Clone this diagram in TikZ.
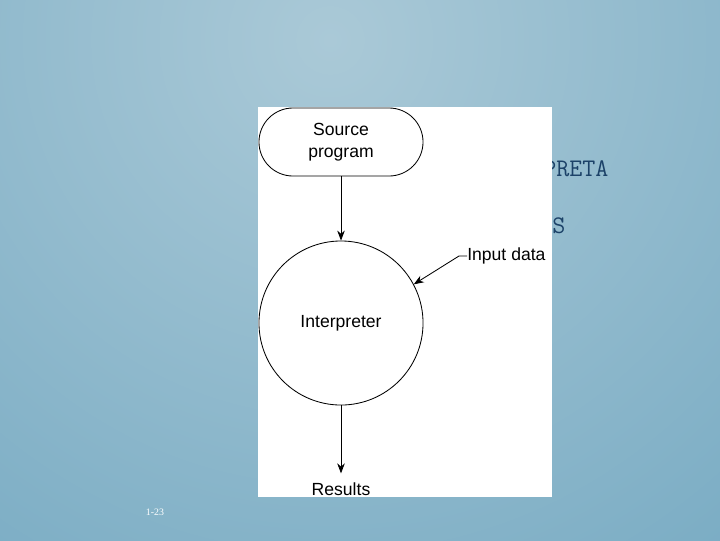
\documentclass[tikz,border=0pt]{standalone}
\usepackage{fontspec}
\usepackage{xcolor}
\usepackage{tikz}
\usetikzlibrary{arrows.meta}
\setmainfont{Liberation Sans}
\newfontfamily\slideserif{Liberation Serif}
\definecolor{slidelight}{RGB}{170,201,215}
\definecolor{slidedark}{RGB}{110,165,191}
\definecolor{titleblue}{RGB}{28,66,104}

\begin{document}
\begin{tikzpicture}[x=0.025cm, y=-0.025cm,
    flowtext/.style={font=\fontsize{12.5}{16}\selectfont, align=center},
    titletext/.style={text=titleblue, font=\ttfamily\fontsize{18}{20}\selectfont, anchor=base west, inner sep=0},
    flowarrow/.style={-{Stealth[length=0.25cm, width=0.19cm]}, line width=0.6pt}]
    % slide background
    \useasboundingbox (0,0) rectangle (720,540);
    \begin{scope}
        \clip (0,0) rectangle (720,540);
        \shade[inner color=slidelight, outer color=slidedark] (330,40) circle (820);
    \end{scope}
    \node[titletext] (titleA) at (543,176) {PRETA};
    \node[titletext] (titleB) at (539,233) {SS};
    \node[text=white, font=\slideserif\fontsize{7}{8}\selectfont] (pagenum) at (155,512) {1-23};

    % figure panel
    \fill[white] (258,107) rectangle (552,497);

    \node[draw, line width=0.6pt, rounded corners=0.85cm, minimum width=4.1cm, minimum height=1.7cm, flowtext] (source) at (341,142) {Source\\program};
    \node[draw, line width=0.6pt, circle, minimum size=4.1cm, flowtext] (interp) at (341,323) {Interpreter};
    \node[flowtext, anchor=west, inner sep=0] (input) at (467,256) {Input data};
    \node[flowtext] (results) at (341,489) {Results};

    \draw[flowarrow] (source) -- (interp);
    \draw[flowarrow] (input.west) -- ++(-8,0) -- (interp.28);
    \draw[flowarrow, shorten >=3pt] (interp) -- (results);
\end{tikzpicture}
\end{document}
